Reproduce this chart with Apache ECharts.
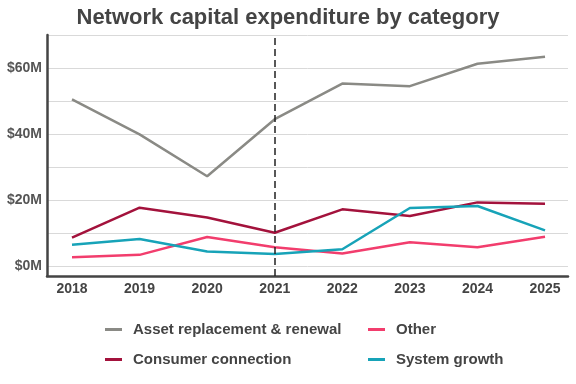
<!DOCTYPE html>
<html><head><meta charset="utf-8">
<script src="https://cdn.jsdelivr.net/npm/echarts@6/dist/echarts.min.js"></script>
<style>html,body{margin:0;padding:0;background:#fff}#c{width:576px;height:384px}</style>
</head><body><div id="c"></div>
<script>
const years = [2018, 2019, 2020, 2021, 2022, 2023, 2024, 2025];
const assetReplacement = [50.5, 39.9, 27.2, 44.5, 55.3, 54.5, 61.3, 63.4];
const consumerConnection = [8.6, 17.7, 14.7, 10.1, 17.2, 15.2, 19.3, 18.9];
const other = [2.7, 3.4, 8.8, 5.7, 3.8, 7.2, 5.7, 8.9];
const systemGrowth = [6.5, 8.2, 4.4, 3.7, 5.1, 17.6, 18.2, 10.8];
const dividerYear = 2021;
const seriesNames = ['Asset replacement & renewal', 'Consumer connection', 'Other', 'System growth'];

const font = 'Liberation Sans, Arial, sans-serif';
const pair = arr => years.map((y, i) => [y, arr[i]]);
const mk = (name, data, color, extra) => Object.assign({
  name, type: 'line', data: pair(data), symbol: 'none',
  lineStyle: { width: 2.5, color }, itemStyle: { color }, z: 3
}, extra || {});

const legendText = { fontFamily: font, fontSize: 15, fontWeight: 'bold', color: '#444', padding: [0, 0, 0, 6] };
const chart = echarts.init(document.getElementById('c'), null, { renderer: 'canvas' });
chart.setOption({
  animation: false,
  backgroundColor: '#fff',
  title: {
    text: 'Network capital expenditure by category', left: 'center', top: 2,
    textStyle: { fontFamily: font, fontSize: 22, fontWeight: 'bold', color: '#444' }
  },
  legend: [{
    orient: 'vertical', left: 100, top: 317, itemGap: 15,
    icon: 'rect', itemWidth: 17, itemHeight: 3,
    data: [seriesNames[0], seriesNames[1]],
    textStyle: legendText
  }, {
    orient: 'vertical', left: 363, top: 317, itemGap: 15,
    icon: 'rect', itemWidth: 17, itemHeight: 3,
    data: [seriesNames[2], seriesNames[3]],
    textStyle: legendText
  }],
  grid: { left: 47, right: 8, top: 35, bottom: 108, containLabel: false },
  xAxis: {
    type: 'value', min: 2017.63, max: 2025.34, splitNumber: 8,
    axisLine: { show: true, onZero: false, lineStyle: { color: '#444', width: 2.5 } },
    axisTick: { show: false },
    splitLine: { show: false },
    axisLabel: {
      fontFamily: font, fontSize: 14, fontWeight: 'bold', color: '#444', margin: 6,
      showMinLabel: false, showMaxLabel: false,
      formatter: v => (Math.abs(v - Math.round(v)) < 1e-6 ? String(Math.round(v)) : '')
    }
  },
  yAxis: {
    type: 'value', min: -3, max: 70, splitNumber: 7,
    axisLine: { show: true, onZero: false, lineStyle: { color: '#444', width: 2.5 } },
    axisTick: { show: false },
    splitLine: { show: true, lineStyle: { color: '#d9d9d9', width: 1 } },
    axisLabel: {
      fontFamily: font, fontSize: 14, fontWeight: 'bold', color: '#555', margin: 5,
      formatter: v => (v >= 0 && Math.abs(v % 20) < 1e-6 ? '$' + v + 'M' : '')
    }
  },
  series: [
    mk(seriesNames[0], assetReplacement, '#8a8a85', {
      markLine: {
        silent: true, symbol: 'none', label: { show: false },
        lineStyle: { color: '#222', type: [7, 4], width: 1.5 },
        data: [{ xAxis: dividerYear }]
      }
    }),
    mk(seriesNames[1], consumerConnection, '#a3123c'),
    mk(seriesNames[2], other, '#f23d6d'),
    mk(seriesNames[3], systemGrowth, '#17a3b8')
  ]
});
</script></body></html>
